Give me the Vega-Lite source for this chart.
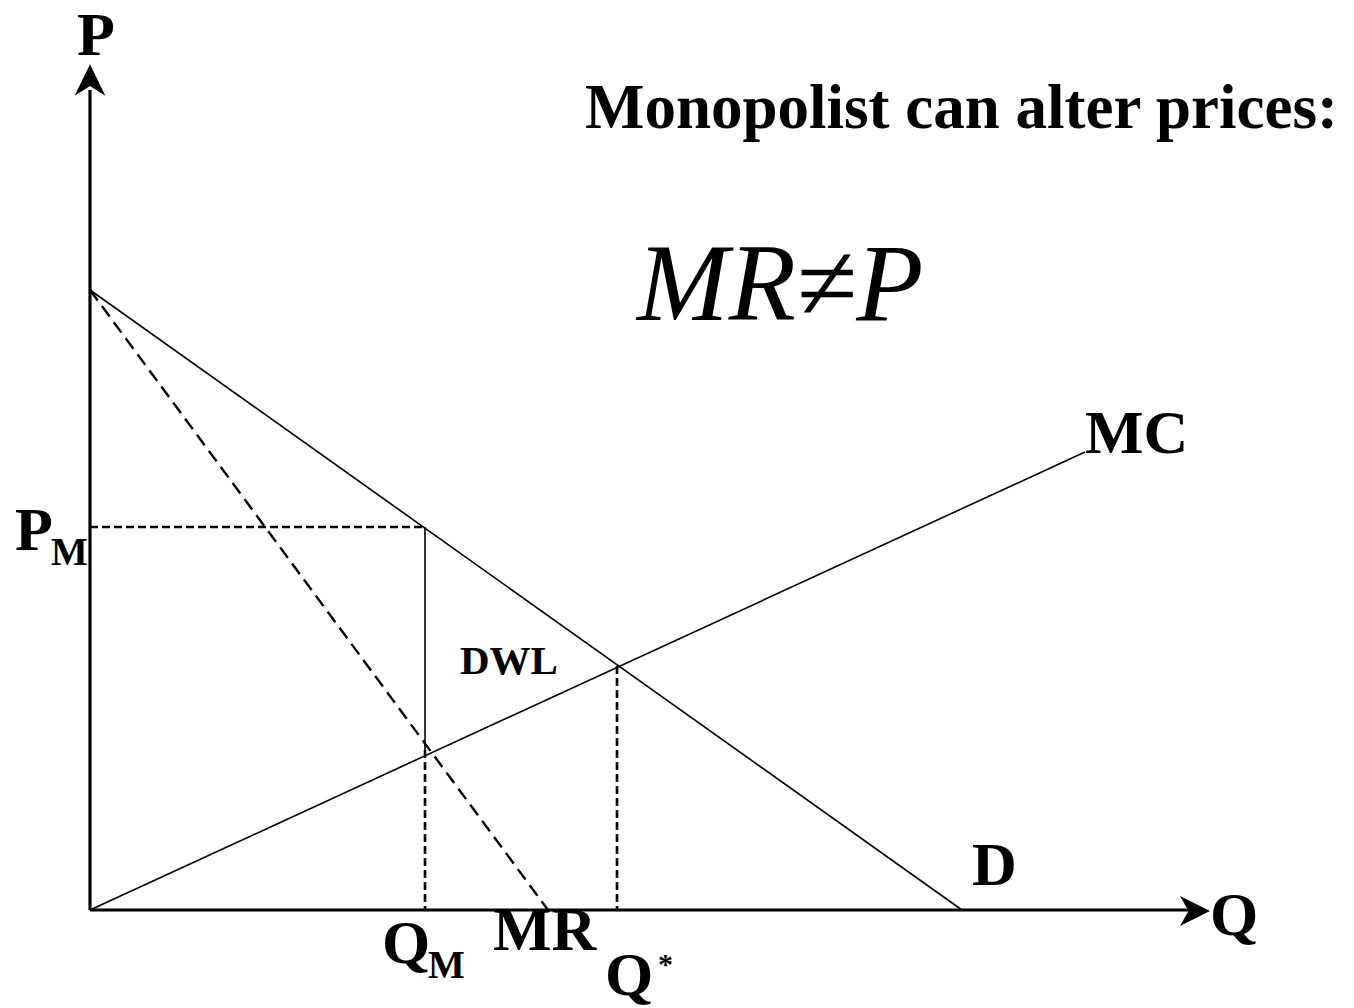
{
  "$schema": "https://vega.github.io/schema/vega-lite/v6.json",
  "autosize": {"type": "fit", "contains": "padding"},
  "width": 1354,
  "height": 1008,
  "padding": 0,
  "background": "white",
  "config": {"view": {"stroke": null}},
  "datasets": {
    "segs": [
      {"seg": "D", "kind": "curve", "x": 0, "y": 62, "x2": 87.2, "y2": 0},
      {"seg": "MC", "kind": "curve", "x": 0, "y": 0, "x2": 99.5, "y2": 45.8},
      {"seg": "QM upper", "kind": "curve", "x": 33.5, "y": 38.3, "x2": 33.5, "y2": 16},
      {"seg": "MR", "kind": "mr", "x": 0, "y": 62, "x2": 45.8, "y2": 0},
      {"seg": "PM", "kind": "guide", "x": 0, "y": 38.3, "x2": 33.5, "y2": 38.3},
      {"seg": "QM lower", "kind": "guide", "x": 33.5, "y": 16, "x2": 33.5, "y2": 0},
      {"seg": "Qstar", "kind": "guide", "x": 52.7, "y": 24.4, "x2": 52.7, "y2": 0},
      {"seg": "P axis", "kind": "axis", "x": 0, "y": 0, "x2": 0, "y2": 82},
      {"seg": "Q axis", "kind": "axis", "x": 0, "y": 0, "x2": 111, "y2": 0}
    ],
    "arrows": [
      {"axis": "P", "x": 0, "y": 83.0},
      {"axis": "Q", "x": 110.5, "y": -0.1}
    ],
    "big": [
      {"label": "P", "x": -1.3, "y": 85.5},
      {"label": "MC", "x": 99.5, "y": 45.7},
      {"label": "D", "x": 88.2, "y": 2.5},
      {"label": "Q", "x": 112, "y": -2.5},
      {"label": "P", "x": -7.5, "y": 36},
      {"label": "Q", "x": 29.2, "y": -5.3},
      {"label": "MR", "x": 40.3, "y": -4},
      {"label": "Q", "x": 51.5, "y": -8.5}
    ],
    "subs": [
      {"label": "M", "x": -3.9, "y": 34.5},
      {"label": "M", "x": 33.8, "y": -6.8}
    ],
    "star": [{"label": "*", "x": 56.8, "y": -6.4}],
    "title": [{"label": "Monopolist can alter prices:", "x": 49.5, "y": 78.2}],
    "eq": [{"label": "MR≠P", "x": 54.7, "y": 59}],
    "dwl": [{"label": "DWL", "x": 37, "y": 23.6}]
  },
  "encoding": {
    "x": {"field": "x", "type": "quantitative", "scale": {"domain": [-9, 126.4], "nice": false, "zero": false}, "axis": null},
    "y": {"field": "y", "type": "quantitative", "scale": {"domain": [-9.8, 91], "nice": false, "zero": false}, "axis": null}
  },
  "layer": [
    {
      "data": {"name": "segs"},
      "transform": [{"filter": "datum.kind == 'curve'"}],
      "mark": {"type": "rule", "color": "black", "strokeWidth": 1.6, "clip": false},
      "encoding": {"x2": {"field": "x2"}, "y2": {"field": "y2"}}
    },
    {
      "data": {"name": "segs"},
      "transform": [{"filter": "datum.kind == 'mr'"}],
      "mark": {"type": "rule", "color": "black", "strokeWidth": 2.4, "strokeDash": [13, 7], "clip": false},
      "encoding": {"x2": {"field": "x2"}, "y2": {"field": "y2"}}
    },
    {
      "data": {"name": "segs"},
      "transform": [{"filter": "datum.kind == 'guide'"}],
      "mark": {"type": "rule", "color": "black", "strokeWidth": 2.6, "strokeDash": [8, 4], "clip": false},
      "encoding": {"x2": {"field": "x2"}, "y2": {"field": "y2"}}
    },
    {
      "data": {"name": "segs"},
      "transform": [{"filter": "datum.kind == 'axis'"}],
      "mark": {"type": "rule", "color": "black", "strokeWidth": 3.2, "clip": false},
      "encoding": {"x2": {"field": "x2"}, "y2": {"field": "y2"}}
    },
    {
      "data": {"name": "arrows"},
      "transform": [{"filter": "datum.axis == 'P'"}],
      "mark": {"type": "point", "filled": true, "color": "black", "opacity": 1, "size": 1000, "shape": "M0,-1L0.97,1L0,0.38L-0.97,1Z", "clip": false}
    },
    {
      "data": {"name": "arrows"},
      "transform": [{"filter": "datum.axis == 'Q'"}],
      "mark": {"type": "point", "filled": true, "color": "black", "opacity": 1, "size": 900, "shape": "M1,0L-1,-1L-0.43,0L-1,1Z", "clip": false}
    },
    {
      "data": {"name": "big"},
      "mark": {"type": "text", "font": "Liberation Serif", "fontWeight": "bold", "fontSize": 62, "align": "left", "baseline": "alphabetic", "color": "black", "clip": false},
      "encoding": {"text": {"field": "label"}}
    },
    {
      "data": {"name": "subs"},
      "mark": {"type": "text", "font": "Liberation Serif", "fontWeight": "bold", "fontSize": 39, "align": "left", "baseline": "alphabetic", "color": "black", "clip": false},
      "encoding": {"text": {"field": "label"}}
    },
    {
      "data": {"name": "star"},
      "mark": {"type": "text", "font": "Liberation Serif", "fontWeight": "bold", "fontSize": 30, "align": "left", "baseline": "alphabetic", "color": "black", "clip": false},
      "encoding": {"text": {"field": "label"}}
    },
    {
      "data": {"name": "title"},
      "mark": {"type": "text", "font": "Liberation Serif", "fontWeight": "bold", "fontSize": 63, "align": "left", "baseline": "alphabetic", "color": "black", "clip": false},
      "encoding": {"text": {"field": "label"}}
    },
    {
      "data": {"name": "eq"},
      "mark": {"type": "text", "font": "Liberation Serif", "fontStyle": "italic", "fontSize": 110, "align": "left", "baseline": "alphabetic", "color": "black", "clip": false},
      "encoding": {"text": {"field": "label"}}
    },
    {
      "data": {"name": "dwl"},
      "mark": {"type": "text", "font": "Liberation Serif", "fontWeight": "bold", "fontSize": 41, "align": "left", "baseline": "alphabetic", "color": "black", "clip": false},
      "encoding": {"text": {"field": "label"}}
    }
  ]
}
